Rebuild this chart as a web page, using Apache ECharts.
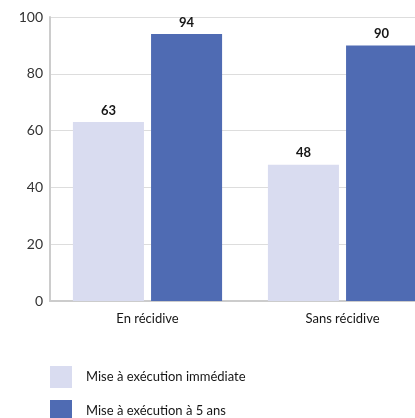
<!DOCTYPE html>
<html>
<head>
<meta charset="utf-8">
<script src="https://cdn.jsdelivr.net/npm/echarts@6/dist/echarts.min.js"></script>
<style>
    html, body { margin: 0; padding: 0; background: #fff; }
    #main { width: 415px; height: 418px; }
</style>
</head>
<body>
<div id="main"></div>
<script>
    var categories = ['En récidive', 'Sans récidive'];
    var seriesNames = ['Mise à exécution immédiate', 'Mise à exécution à 5 ans'];
    var immediate = [63, 48];
    var fiveYears = [94, 90];

    var chart = echarts.init(document.getElementById('main'));
    var labelStyle = {
        show: true,
        position: 'top',
        distance: 5,
        color: '#161616',
        fontWeight: 'bold',
        fontSize: 13,
        fontFamily: 'Lato'
    };
    // one legend per series so they stack like the original
    function legendAt(name, top) {
        return {
            left: 50,
            top: top,
            padding: 0,
            itemWidth: 22,
            itemHeight: 22,
            icon: 'rect',
            textStyle: { fontSize: 13, color: '#161616', padding: [0, 0, 0, 9] },
            data: [name]
        };
    }
    var option = {
        animation: false,
        textStyle: { fontFamily: 'Lato' },
        grid: {
            left: 50,
            width: 390,
            top: 17,
            height: 284,
            outerBoundsMode: 'none'
        },
        legend: [
            legendAt(seriesNames[0], 366),
            legendAt(seriesNames[1], 400)
        ],
        xAxis: {
            type: 'category',
            data: categories,
            axisLine: { lineStyle: { color: '#cccccc', width: 2 } },
            axisTick: { show: false },
            axisLabel: { fontSize: 13, color: '#161616', margin: 11 }
        },
        yAxis: {
            type: 'value',
            min: 0,
            max: 100,
            interval: 20,
            axisLine: { show: true, lineStyle: { color: '#cccccc', width: 2 } },
            splitLine: { lineStyle: { color: '#dddddd' } },
            axisLabel: { fontSize: 14, color: '#333333', margin: 7 }
        },
        series: [
            {
                name: seriesNames[0],
                type: 'bar',
                data: immediate,
                barGap: '10%',
                barCategoryGap: '23.5%',
                itemStyle: { color: '#d9dcf0' },
                label: labelStyle
            },
            {
                name: seriesNames[1],
                type: 'bar',
                data: fiveYears,
                itemStyle: { color: '#4f6bb3' },
                label: labelStyle
            }
        ]
    };
    chart.setOption(option);
</script>
</body>
</html>
